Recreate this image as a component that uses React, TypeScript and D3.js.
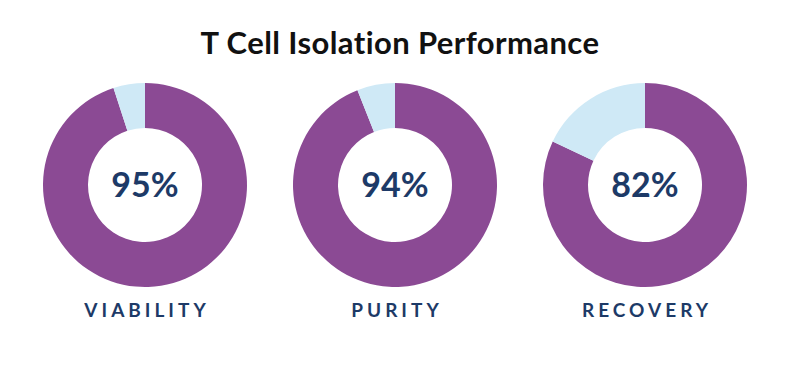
import React from "react";
import * as d3 from "d3";

const title = "T Cell Isolation Performance";
const categories = ["VIABILITY", "PURITY", "RECOVERY"];
const values = [95, 94, 82];

const colors = { main: "#8b4a94", rest: "#cfe9f6", text: "#1d3a67" };

export default function App() {
  const width = 800;
  const height = 368;
  const outerR = 102;
  const innerR = 57;
  const cy = 185;

  const x = d3.scalePoint<string>().domain(categories).range([145, 645]);
  const pie = d3.pie<number>().sort(null).value((d) => d);
  const arc = d3.arc<d3.PieArcDatum<number>>().innerRadius(innerR).outerRadius(outerR);

  return (
    <svg width={width} height={height} style={{ position: "absolute", left: 0, top: 0 }}>
      <rect width={width} height={height} fill="#fff" />
      <text
        x={400}
        y={54}
        textAnchor="middle"
        fontFamily="Lato, sans-serif"
        fontWeight={700}
        fontSize={31}
        letterSpacing={0.4}
        fill="#111"
      >
        {title}
      </text>
      {categories.map((c, i) => {
        const arcs = pie([values[i], 100 - values[i]]);
        const cx = x(c)!;
        return (
          <g key={c} transform={`translate(${cx},${cy})`}>
            {arcs.map((a, j) => (
              <path key={j} d={arc(a)!} fill={j === 0 ? colors.main : colors.rest} />
            ))}
            <text
              y={12}
              textAnchor="middle"
              fontFamily="Lato, sans-serif"
              fontWeight={700}
              fontSize={34}
              fill={colors.text}
            >
              {values[i]}%
            </text>
            <text
              x={2}
              y={132}
              textAnchor="middle"
              fontFamily="Lato, sans-serif"
              fontWeight={700}
              fontSize={19}
              letterSpacing={4}
              fill={colors.text}
            >
              {c}
            </text>
          </g>
        );
      })}
    </svg>
  );
}
